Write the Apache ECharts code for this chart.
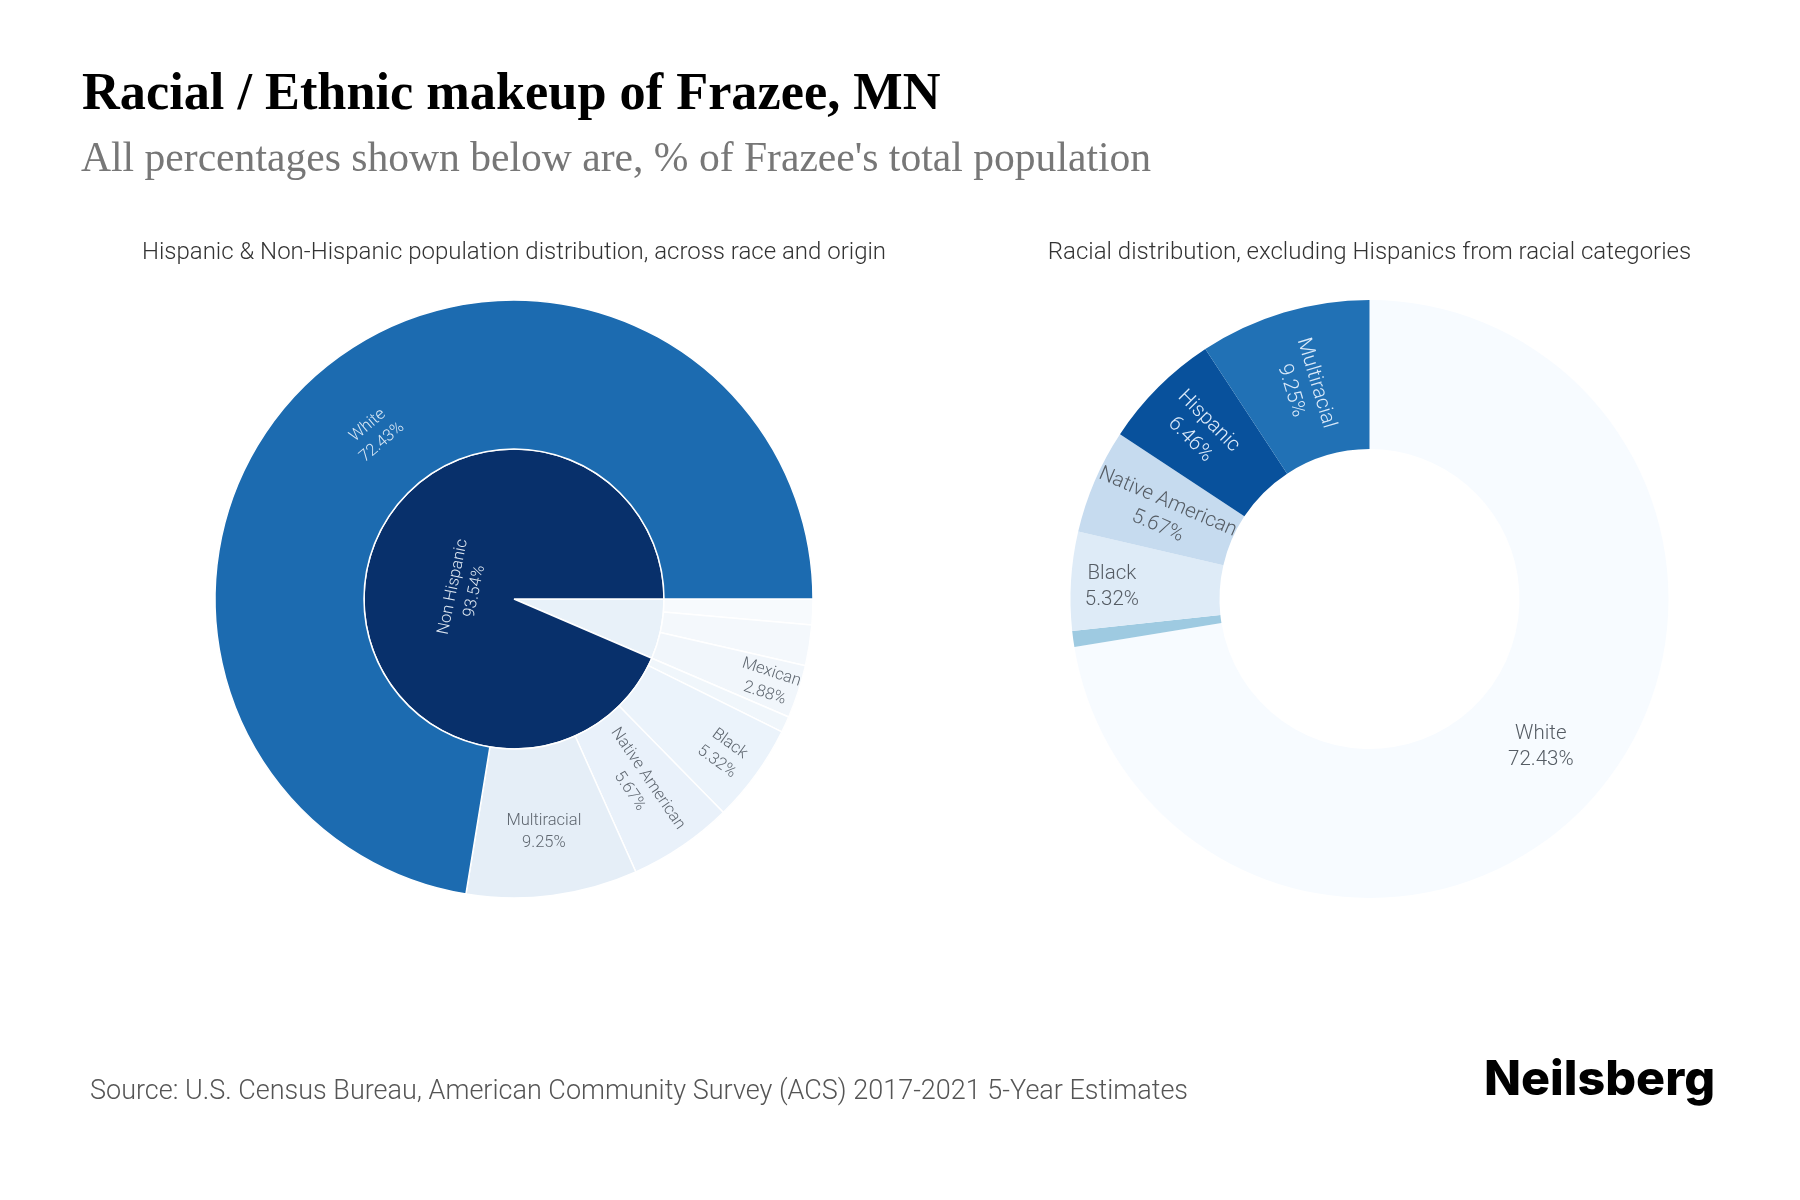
<!DOCTYPE html>
<html>
<head>
<meta charset="utf-8">
<title>Racial / Ethnic makeup of Frazee, MN</title>
<script src="https://cdn.jsdelivr.net/npm/echarts@6/dist/echarts.min.js"></script>
<style>
  html, body { margin: 0; padding: 0; background: #fff; }
  #chart { width: 1800px; height: 1200px; }
</style>
</head>
<body>
<div id="chart"></div>
<script>
// data
var originNames = ['Hispanic', 'Non Hispanic'];
var originValues = [6.46, 93.54];
var originColors = ['#e8f1f9', '#08306b'];

var hispanicNames = ['Other Hispanic', 'Puerto Rican', 'Mexican'];
var hispanicValues = [1.39, 2.19, 2.88];
var hispanicColors = ['#f7fafd', '#f4f8fc', '#f1f6fb'];

var raceNames = ['Other', 'Black', 'Native American', 'Multiracial', 'White'];
var raceValues = [0.87, 5.32, 5.67, 9.25, 72.43];
var raceLeftColors = ['#f0f6fb', '#ebf3fb', '#e9f1fa', '#e5eef7', '#1c6bb0'];

var distNames = ['White', 'Other', 'Black', 'Native American', 'Hispanic', 'Multiracial'];
var distValues = [72.43, 0.87, 5.32, 5.67, 6.46, 9.25];
var distColors = ['#f7fbff', '#9ecae1', '#deebf7', '#c6dbef', '#08519c', '#2171b5'];

// labels that the picture leaves out, and how the others are turned
var noLabel = ['Other', 'Other Hispanic', 'Puerto Rican'];
var leftRotate = { 'White': 'tangential', 'Multiracial': 0 };
var rightRotate = { 'White': 0, 'Black': 0 };

// nudges of the labels from their default place, along the turned text
var leftNudge = {
  'Non Hispanic': [-0.4, 24], 'White': [1, 8.7], 'Mexican': [43, 1],
  'Black': [35, 1.7], 'Native American': [-0.6, 1.6], 'Multiracial': [1, 10]
};
var rightNudge = {
  'White': [-2, 1], 'Black': [-30.5, 2], 'Native American': [3.9, 3.7],
  'Hispanic': [-12, 1.4], 'Multiracial': [5.4, 2.6]
};

function percentLabel(p) {
  return p.name + '\n' + p.value.toFixed(2) + '%';
}

function nudgeBy(table) {
  return function (params) {
    var n = table[(params.text || '').split('\n')[0]] || [0, 0];
    return { dx: n[0], dy: n[1] };
  };
}

function leaves(names, values, colors) {
  return names.map(function (name, i) {
    var r = leftRotate[name];
    return {
      name: name,
      value: values[i],
      itemStyle: { color: colors[i] },
      label: {
        show: noLabel.indexOf(name) < 0,
        color: name === 'White' ? '#dbe9f6' : '#5f6770',
        rotate: r === undefined ? 'radial' : r
      }
    };
  });
}

var sunData = [
  {
    name: originNames[0],
    value: originValues[0],
    itemStyle: { color: originColors[0] },
    label: { show: false },
    children: leaves(hispanicNames, hispanicValues, hispanicColors)
  },
  {
    name: originNames[1],
    value: originValues[1],
    itemStyle: { color: originColors[1] },
    label: { color: '#dfe8f2', rotate: 'tangential' },
    children: leaves(raceNames, raceValues, raceLeftColors)
  }
];

var pieData = distNames.map(function (name, i) {
  var r = rightRotate[name];
  return {
    name: name,
    value: distValues[i],
    itemStyle: { color: distColors[i] },
    label: {
      show: noLabel.indexOf(name) < 0,
      color: name === 'Hispanic' || name === 'Multiracial' ? '#dbeafa' : '#555c64',
      rotate: r === undefined ? 'radial' : r
    }
  };
});

var myChart = echarts.init(document.getElementById('chart'));

var option = {
  animation: false,
  backgroundColor: '#fff',
  title: [
    {
      text: 'Racial / Ethnic makeup of Frazee, MN',
      left: 82, top: 69, padding: 0,
      textStyle: { fontFamily: 'Liberation Serif', fontWeight: 'bold', fontSize: 52.3, color: '#000' }
    },
    {
      text: "All percentages shown below are, % of Frazee's total population",
      left: 81, top: 139, padding: 0,
      textStyle: { fontFamily: 'Liberation Serif', fontWeight: 'normal', fontSize: 41.6, color: '#777' }
    },
    {
      text: 'Hispanic & Non-Hispanic population distribution, across race and origin',
      left: 514, top: 241, padding: 0, textAlign: 'center',
      textStyle: { fontFamily: 'Roboto', fontWeight: 300, fontSize: 24, color: '#333' }
    },
    {
      text: 'Racial distribution, excluding Hispanics from racial categories',
      left: 1369.5, top: 241, padding: 0, textAlign: 'center',
      textStyle: { fontFamily: 'Roboto', fontWeight: 300, fontSize: 24, color: '#333' }
    },
    {
      text: 'Source: U.S. Census Bureau, American Community Survey (ACS) 2017-2021 5-Year Estimates',
      left: 90, top: 1079, padding: 0,
      textStyle: { fontFamily: 'Roboto', fontWeight: 300, fontSize: 27, color: '#555' }
    },
    {
      text: 'Neilsberg',
      left: 1484, top: 1056, padding: 0,
      textStyle: { fontFamily: 'Inter', fontWeight: 800, fontSize: 48.4, color: '#000' }
    }
  ],
  series: [
    {
      type: 'sunburst',
      center: [514, 599],
      radius: [0, 299],
      startAngle: 0,
      clockwise: true,
      sort: null,
      nodeClick: false,
      emphasis: { focus: 'none' },
      data: sunData,
      itemStyle: { borderColor: '#fff', borderWidth: 1.5 },
      label: {
        formatter: percentLabel,
        fontFamily: 'Roboto',
        fontWeight: 300,
        fontSize: 16.5,
        lineHeight: 22,
        minAngle: 0
      },
      levels: [
        {},
        { r0: 0, r: 150 },
        { r0: 150, r: 299 }
      ],
      labelLayout: nudgeBy(leftNudge)
    },
    {
      type: 'pie',
      center: [1369.5, 599],
      radius: [150, 299],
      startAngle: 90,
      clockwise: true,
      silent: true,
      avoidLabelOverlap: false,
      data: pieData,
      label: {
        position: 'inside',
        formatter: percentLabel,
        fontFamily: 'Roboto',
        fontWeight: 300,
        fontSize: 20.5,
        lineHeight: 26
      },
      labelLine: { show: false },
      labelLayout: nudgeBy(rightNudge)
    }
  ]
};

myChart.setOption(option);
</script>
</body>
</html>
